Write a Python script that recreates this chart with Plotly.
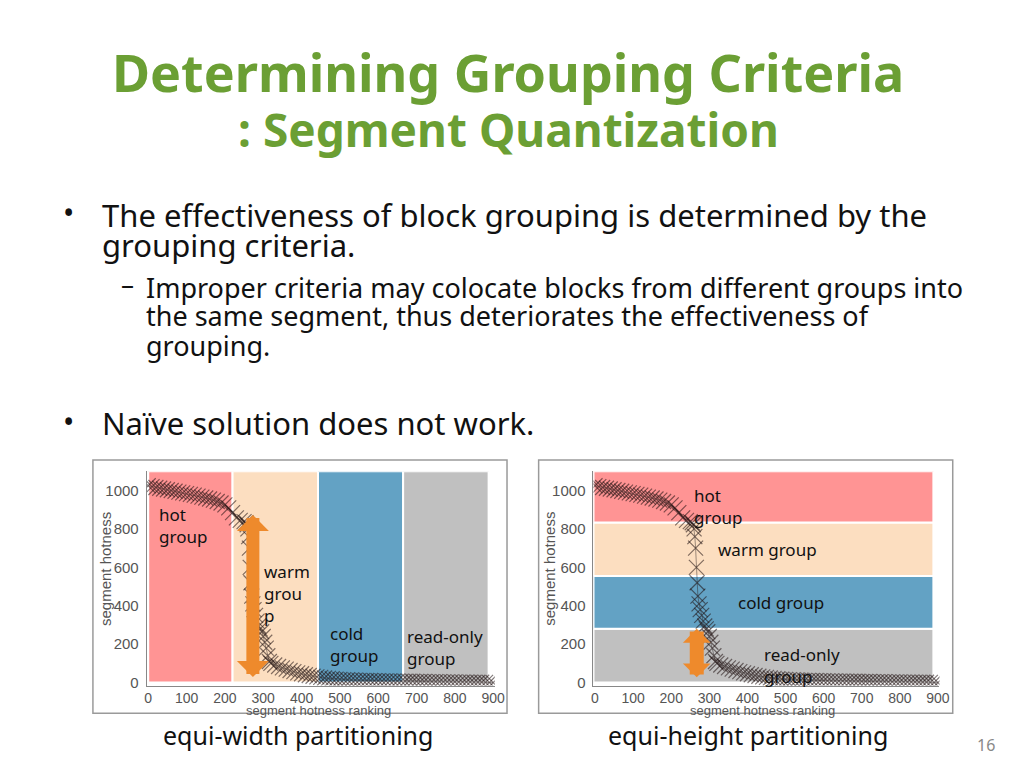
import plotly.graph_objects as go

# segment hotness curve
rank = [0, 10, 20, 30, 40, 50, 60, 70, 80, 90, 100, 110, 120, 130, 140, 150, 160, 170, 180, 190,
        200, 210, 220, 230, 240, 250, 255, 258, 260, 262, 264, 266, 268, 270, 273, 276, 280, 284,
        288, 292, 296, 300, 304, 308, 312, 316, 320, 330, 340, 350, 360, 370, 380, 390, 400, 410,
        420, 430, 440, 450, 460, 470, 480, 490, 500, 510, 520, 530, 540, 550, 560, 570, 580, 590,
        600, 610, 620, 630, 640, 650, 660, 670, 680, 690, 700, 710, 720, 730, 740, 750, 760, 770,
        780, 790, 800, 810, 820, 830, 840, 850, 860, 870, 880, 890, 900]
hotness = [1025, 1020, 1016, 1012, 1008, 1004, 1000, 996, 992, 988, 984, 980, 976, 971, 966, 961,
           956, 950, 943, 935, 925, 910, 885, 858, 845, 838, 832, 822, 800, 760, 700, 600, 520, 450,
           410, 380, 350, 320, 295, 280, 265, 240, 210, 180, 140, 110, 100, 92, 84, 77, 70, 63, 57,
           51, 46, 41, 37, 33, 30, 27, 24, 22, 20, 18, 17, 16, 15, 14, 13, 12, 12, 11, 11, 10, 10,
           9, 9, 9, 8, 8, 8, 7, 7, 7, 6, 6, 6, 5, 5, 5, 5, 4, 4, 4, 4, 3, 3, 3, 3, 2, 2, 2, 1, 1, 0]

group_names = ["hot", "warm", "cold", "read-only"]
group_colors = ["#FF9494", "#FCDEC0", "#63A2C4", "#C0C0C0"]
width_edges = [0, 220, 443, 665, 888]     # equi-width: ranking boundaries
height_edges = [0, 280, 555, 833, 1100]   # equi-height: hotness boundaries (read-only .. hot)

x_ticks = [0, 100, 200, 300, 400, 500, 600, 700, 800, 900]
y_ticks = [0, 200, 400, 600, 800, 1000]

GREEN = "#6B9F34"
ORANGE = "#EE8A2C"


def px(x):
    return x / 1024


def py(y):
    return 1 - y / 768


fig = go.Figure()

# equi-width bands (vertical bars)
fig.add_trace(go.Bar(
    x=[(a + b) / 2 for a, b in zip(width_edges[:-1], width_edges[1:])],
    y=[height_edges[-1]] * 4,
    width=[b - a for a, b in zip(width_edges[:-1], width_edges[1:])],
    base=0, marker=dict(color=group_colors, line=dict(color="white", width=2)),
    name="", showlegend=False, xaxis="x", yaxis="y"))

# equi-height bands (horizontal bars, bottom band first)
fig.add_trace(go.Bar(
    y=[(a + b) / 2 for a, b in zip(height_edges[:-1], height_edges[1:])],
    x=[width_edges[-1] + 4] * 4,
    width=[b - a for a, b in zip(height_edges[:-1], height_edges[1:])],
    base=-4, orientation="h",
    marker=dict(color=group_colors[::-1], line=dict(color="white", width=2)),
    name="", showlegend=False, xaxis="x2", yaxis="y2"))

for xa, ya in [("x", "y"), ("x2", "y2")]:
    fig.add_trace(go.Scatter(
        x=rank, y=hotness, mode="lines+markers", xaxis=xa, yaxis=ya, showlegend=False,
        line=dict(color="rgba(40,30,30,0.45)", width=1),
        marker=dict(symbol="x-thin", size=15,
                    line=dict(color="rgba(30,15,15,0.55)", width=1.2))))

axis_font = dict(family="Liberation Sans, Arial", size=14, color="#555555")
xcommon = dict(range=[-4, 904], tickvals=x_ticks, showgrid=False, zeroline=False,
               showline=True, linecolor="#888888", linewidth=1, ticks="",
               tickfont=axis_font, ticklabelstandoff=0)
ycommon = dict(range=[-15, 1100], tickvals=y_ticks, showgrid=False, zeroline=False,
               showline=True, linecolor="#888888", linewidth=1, ticks="",
               tickfont=dict(axis_font, size=15), ticklabelstandoff=4,
               domain=[py(690), py(474.4)])

fig.update_layout(
    autosize=True, margin=dict(l=0, r=0, t=0, b=0),
    paper_bgcolor="white", plot_bgcolor="white", showlegend=False,
    xaxis=dict(xcommon, domain=[px(146.4), px(498.6)], anchor="y"),
    yaxis=dict(ycommon, anchor="x"),
    xaxis2=dict(xcommon, domain=[px(598.5), px(948.6)], anchor="y2"),
    yaxis2=dict(ycommon, anchor="x2"),
)

# axis titles, placed as in the pasted matlab figures
title_font = dict(family="Liberation Sans, Arial", size=13, color="#555555")
for xt, yt in [(104, 320), (554, 770)]:
    fig.add_annotation(xref="paper", yref="paper", x=px(xt), y=py(573), text="segment hotness",
                       textangle=-90, showarrow=False, xanchor="center", yanchor="middle",
                       font=dict(title_font, size=15))
    fig.add_annotation(xref="paper", yref="paper", x=px(yt), y=py(715),
                       text="segment hotness ranking", showarrow=False,
                       xanchor="center", yanchor="middle", font=title_font)

# picture frames around the two charts
for x0, x1 in [(92, 511), (543, 962)]:
    fig.add_shape(type="rect", xref="paper", yref="paper",
                  x0=px(x0), x1=px(x1), y0=py(718), y1=py(463),
                  line=dict(color="#9A9A9A", width=1.5), layer="above")

# orange double arrows
fig.add_annotation(xref="x", yref="y", axref="x", ayref="y", x=273, y=873, ax=273, ay=21,
                   text="", showarrow=True, arrowside="end+start", arrowhead=1, startarrowhead=1,
                   arrowsize=0.41, startarrowsize=0.41, arrowwidth=13, arrowcolor=ORANGE)
fig.add_annotation(xref="x2", yref="y2", axref="x2", ayref="y2", x=267, y=280, ax=267, ay=20,
                   text="", showarrow=True, arrowside="end+start", arrowhead=1, startarrowhead=1,
                   arrowsize=0.33, startarrowsize=0.33, arrowwidth=14, arrowcolor=ORANGE)

# group labels
label_font = dict(family="Noto Sans", size=17, color="#111111")
labels = [
    ("hot<br>group", 157, 529, "left"),
    ("warm<br>grou<br>p", 263, 597, "left"),
    ("cold<br>group", 330, 649, "left"),
    ("read-only<br>group", 408, 652, "left"),
    ("hot<br>group", 698, 510, "left"),
    ("warm group", 775, 553, "center"),
    ("cold group", 788, 606, "center"),
    ("read-only<br>group", 809, 670, "center"),
]
for txt, x, y, anchor in labels:
    fig.add_annotation(xref="paper", yref="paper", x=px(x), y=py(y), text=txt,
                       showarrow=False, xanchor=anchor, yanchor="middle", align="left",
                       font=label_font)

# slide text
body = "Noto Sans"
slide_text = [
    ("<b>Determining Grouping Criteria</b>", 512, 72, 52, GREEN, "center"),
    ("<b>: Segment Quantization</b>", 512, 130, 46, GREEN, "center"),
    ("•", 60, 214, 30, "#111111", "left"),
    ("The effectiveness of block grouping is determined by the", 99, 216, 31, "#111111", "left"),
    ("grouping criteria.", 99, 247, 31, "#111111", "left"),
    ("–", 118, 286, 26, "#111111", "left"),
    ("Improper criteria may colocate blocks from different groups into", 144, 289, 27, "#111111", "left"),
    ("the same segment, thus deteriorates the effectiveness of", 144, 318, 27, "#111111", "left"),
    ("grouping.", 144, 348, 27, "#111111", "left"),
    ("•", 60, 424, 30, "#111111", "left"),
    ("Naïve solution does not work.", 99, 426, 31, "#111111", "left"),
    ("equi-width partitioning", 300, 740, 25, "#111111", "center"),
    ("equi-height partitioning", 755, 740, 25, "#111111", "center"),
    ("16", 996, 750, 16, "#888888", "center"),
]
for txt, x, y, size, color, anchor in slide_text:
    fig.add_annotation(xref="paper", yref="paper", x=px(x), y=py(y), text=txt,
                       showarrow=False, xanchor=anchor, yanchor="middle",
                       font=dict(family=body, size=size, color=color))

fig.write_html(
    "out.html",
    config={"displayModeBar": False, "responsive": True},
    default_width="100vw", default_height="100vh",
    post_script="document.body.style.margin = '0';"
                "document.body.style.overflow = 'hidden';"
                "document.documentElement.style.overflow = 'hidden';")
